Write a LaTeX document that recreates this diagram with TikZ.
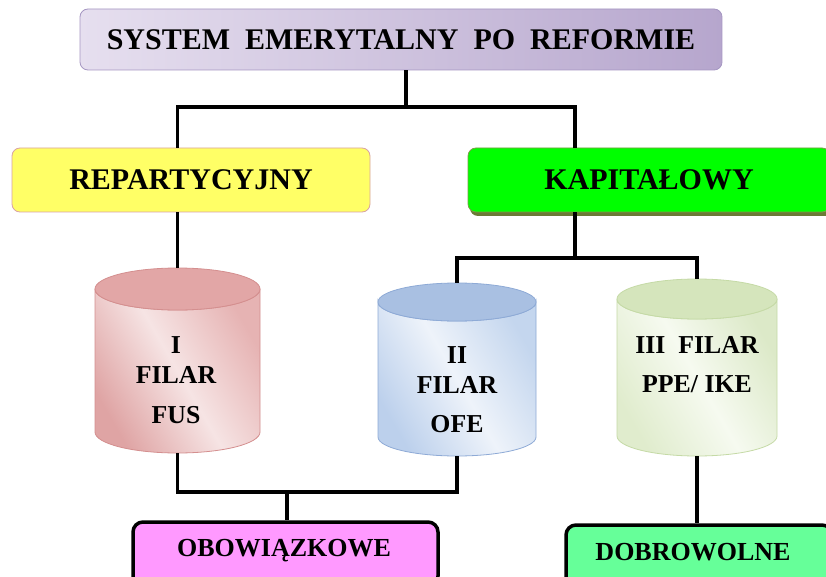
\documentclass[tikz,border=0pt]{standalone}
\usepackage{fontspec}
\setmainfont{Liberation Serif}
\definecolor{ttl}{HTML}{E6DFEF}
\definecolor{ttr}{HTML}{B6A6CD}
\definecolor{ttb}{HTML}{A596C2}
\definecolor{repf}{HTML}{FFFF66}
\definecolor{repb}{HTML}{D9A3A3}
\definecolor{kapf}{HTML}{00FF00}
\definecolor{kapb}{HTML}{7E9A48}
\definecolor{kaps}{HTML}{6B7A36}
\definecolor{obof}{HTML}{FF99FF}
\definecolor{dobf}{HTML}{66FF99}
\definecolor{cAt}{HTML}{E2A6A6}
\definecolor{cAl}{HTML}{DFA4A4}
\definecolor{cAm}{HTML}{F6E4E4}
\definecolor{cAr}{HTML}{E6B3B3}
\definecolor{cAb}{HTML}{D48F8F}
\definecolor{cBt}{HTML}{A9C0E2}
\definecolor{cBl}{HTML}{BCD0EC}
\definecolor{cBm}{HTML}{EEF3FA}
\definecolor{cBr}{HTML}{C4D6EE}
\definecolor{cBb}{HTML}{8EAAD6}
\definecolor{cCt}{HTML}{D5E5BC}
\definecolor{cCl}{HTML}{E0ECCD}
\definecolor{cCm}{HTML}{F6FAF0}
\definecolor{cCr}{HTML}{DCE9C8}
\definecolor{cCb}{HTML}{C5DAA6}
\begin{document}
\begin{tikzpicture}[x=1pt,y=1pt,
  conn/.style={line width=3.5pt, line join=miter},
  bigtxt/.style={font=\bfseries\fontsize{30}{35}\selectfont},
  cyltxt/.style={font=\bfseries\fontsize{25.8}{30}\selectfont},
  smalltxt/.style={font=\bfseries\fontsize{26}{30}\selectfont},
  boxbase/.style={rectangle, rounded corners=8pt, inner sep=0pt},
  cylnode/.style={rectangle, inner sep=0pt},
  lbl/.style={inner sep=0pt, anchor=center}]
\clip (0,0) rectangle (826,-577);
\fill[white] (0,0) rectangle (826,-577);

% title
\node[boxbase, minimum width=642, minimum height=61, left color=ttl, right color=ttr, draw=ttb, line width=0.8pt, bigtxt] (title) at (401,-39.5) {SYSTEM\ \ EMERYTALNY\ \ PO\ \ REFORMIE};

% second level
\node[boxbase, minimum width=358, minimum height=64, fill=repf, draw=repb, line width=0.8pt, bigtxt] (rep) at (191,-180) {REPARTYCYJNY};
\fill[kaps, rounded corners=8pt] (470,-151) rectangle (833,-216);
\node[boxbase, minimum width=362, minimum height=64, fill=kapf, draw=kapb, line width=0.8pt, bigtxt] (kap) at (649,-180) {KAPITAŁOWY};

% cylinder I
\node[cylnode, minimum width=165, minimum height=185] (c1) at (177.5,-360.5) {};
\path[left color=cAl, right color=cAr, middle color=cAm, shading angle=120, draw=cAb, line width=0.8pt]
  (95,-289) -- (95,-432) arc[start angle=180,end angle=360,x radius=82.5,y radius=21] -- (260,-289)
  arc[start angle=0,end angle=-180,x radius=82.5,y radius=21] -- cycle;
\path[fill=cAt, draw=cAb, line width=0.8pt] (177.5,-289) ellipse[x radius=82.5, y radius=21];
\node[lbl, cyltxt] (c1a) at (176,-345) {I};
\node[lbl, cyltxt] (c1b) at (176,-375) {FILAR};
\node[lbl, cyltxt] (c1c) at (176,-415) {FUS};

% cylinder II
\node[cylnode, minimum width=158, minimum height=173] (c2) at (457,-369.5) {};
\path[left color=cBl, right color=cBr, middle color=cBm, shading angle=120, draw=cBb, line width=0.8pt]
  (378,-302) -- (378,-437) arc[start angle=180,end angle=360,x radius=79,y radius=19] -- (536,-302)
  arc[start angle=0,end angle=-180,x radius=79,y radius=19] -- cycle;
\path[fill=cBt, draw=cBb, line width=0.8pt] (457,-302) ellipse[x radius=79, y radius=19];
\node[lbl, cyltxt] (c2a) at (457,-355) {II};
\node[lbl, cyltxt] (c2b) at (457,-385) {FILAR};
\node[lbl, cyltxt] (c2c) at (457,-424) {OFE};

% cylinder III
\node[cylnode, minimum width=160, minimum height=177] (c3) at (697,-367.5) {};
\path[left color=cCl, right color=cCr, middle color=cCm, shading angle=120, draw=cCb, line width=0.8pt]
  (617,-299) -- (617,-436) arc[start angle=180,end angle=360,x radius=80,y radius=20] -- (777,-299)
  arc[start angle=0,end angle=-180,x radius=80,y radius=20] -- cycle;
\path[fill=cCt, draw=cCb, line width=0.8pt] (697,-299) ellipse[x radius=80, y radius=20];
\node[lbl, cyltxt] (c3a) at (697,-345) {III\ \ FILAR};
\node[lbl, cyltxt] (c3b) at (697,-384) {PPE/ IKE};

% bottom boxes
\node[boxbase, rounded corners=10pt, minimum width=305, minimum height=64, fill=obof, draw=black, line width=3.5pt] (obo) at (285.5,-554) {};
\node[lbl, smalltxt] (obot) at (284,-551) {OBOWIĄZKOWE};
\node[boxbase, rounded corners=10pt, minimum width=266, minimum height=62, fill=dobf, draw=black, line width=3.5pt] (dob) at (699,-556) {};
\node[lbl, smalltxt] (dobt) at (693,-552) {DOBROWOLNE};

% connectors
\coordinate (j1) at (406,-107);
\coordinate (kx) at (575,-107);
\coordinate (j2) at (575,-258);
\coordinate (j3) at (287,-492);
\draw[conn] (j1 |- title.south) -- (j1);
\draw[conn] (c1.north |- rep.north) |- (j1) -| (kx |- kap.north);
\draw[conn] (c1.north |- rep.south) -- (c1.north);
\draw[conn] (kx |- kap.south) -- (j2);
\draw[conn] (c2.north) |- (j2) -| (c3.north);
\draw[conn] (c1.south) |- (j3) -| (c2.south);
\draw[conn] (j3) -- (j3 |- obo.north);
\draw[conn] (c3.south) -- (c3.south |- dob.north);
\end{tikzpicture}
\end{document}
